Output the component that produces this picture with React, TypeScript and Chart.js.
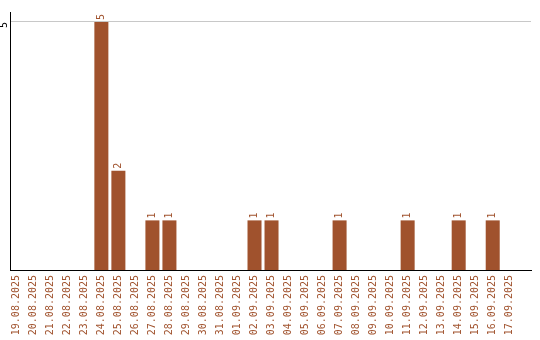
import React, { useEffect, useRef } from "react";
import { Chart, registerables } from "chart.js";

Chart.register(...registerables);

const categories: string[] = [
  "19.08.2025", "20.08.2025", "21.08.2025", "22.08.2025", "23.08.2025",
  "24.08.2025", "25.08.2025", "26.08.2025", "27.08.2025", "28.08.2025",
  "29.08.2025", "30.08.2025", "31.08.2025", "01.09.2025", "02.09.2025",
  "03.09.2025", "04.09.2025", "05.09.2025", "06.09.2025", "07.09.2025",
  "08.09.2025", "09.09.2025", "10.09.2025", "11.09.2025", "12.09.2025",
  "13.09.2025", "14.09.2025", "15.09.2025", "16.09.2025", "17.09.2025",
];
const values: number[] = [
  0, 0, 0, 0, 0,
  5, 2, 0, 1, 1,
  0, 0, 0, 0, 1,
  1, 0, 0, 0, 1,
  0, 0, 0, 1, 0,
  0, 1, 0, 1, 0,
];
const yTickValues: number[] = [5];

const BAR_COLOR = "#A0522D";
const FONT = "'DejaVu Sans Mono', monospace";

const valueLabels = {
  id: "valueLabels",
  afterDatasetsDraw(chart: any) {
    const ctx = chart.ctx;
    const meta = chart.getDatasetMeta(0);
    ctx.save();
    ctx.font = "10px " + FONT;
    ctx.fillStyle = BAR_COLOR;
    ctx.textAlign = "left";
    ctx.textBaseline = "middle";
    meta.data.forEach((el: any, i: number) => {
      const v = values[i];
      if (!v) return;
      ctx.save();
      ctx.translate(el.x, el.y - 2);
      ctx.rotate(-Math.PI / 2);
      ctx.fillText(String(v), 0, 0);
      ctx.restore();
    });
    ctx.restore();
  },
};

export default function App() {
  const ref = useRef<HTMLCanvasElement | null>(null);
  useEffect(() => {
    if (!ref.current) return;
    const chart = new Chart(ref.current, {
      type: "bar",
      data: {
        datasets: [
          {
            data: values.map((v, i) => ({ x: i, y: v })),
            backgroundColor: BAR_COLOR,
            borderWidth: 0,
            barPercentage: 1,
            categoryPercentage: 14 / 17,
          },
        ],
      },
      plugins: [valueLabels],
      options: {
        animation: false,
        responsive: false,
        maintainAspectRatio: false,
        layout: { padding: { left: 0, right: 9, top: 10, bottom: 0 } },
        plugins: { legend: { display: false }, tooltip: { enabled: false } },
        scales: {
          x: {
            type: "linear",
            offset: false,
            min: -0.37,
            max: 30.25,
            afterBuildTicks: (scale: any) => {
              scale.ticks = categories.map((_, i) => ({ value: i }));
            },
            afterFit: (scale: any) => {
              scale.height = 70;
              scale.paddingLeft = 0;
              scale.paddingRight = 0;
            },
            grid: { display: false, drawTicks: false },
            border: { display: true, color: "#000", width: 1 },
            ticks: {
              autoSkip: false,
              minRotation: 90,
              maxRotation: 90,
              padding: 5,
              color: BAR_COLOR,
              font: { family: FONT, size: 10 },
              callback: (v: any) => categories[v] ?? "",
            },
          },
          y: {
            min: 0,
            max: 5.2,
            afterBuildTicks: (scale: any) => {
              scale.ticks = yTickValues.map((v) => ({ value: v }));
            },
            afterFit: (scale: any) => {
              scale.width = 10;
            },
            grid: { color: "#c8c8c8", drawTicks: false, lineWidth: 1 },
            border: { display: true, color: "#000", width: 1 },
            ticks: {
              minRotation: 90,
              maxRotation: 90,
              padding: 6,
              color: "#000",
              font: { family: FONT, size: 10 },
            },
          },
        },
      },
    });
    return () => chart.destroy();
  }, []);
  return (
    <div style={{ position: "fixed", left: 0, top: 0, width: 540, height: 340, background: "#fff" }}>
      <canvas ref={ref} width={540} height={340} style={{ width: 540, height: 340 }} />
    </div>
  );
}
